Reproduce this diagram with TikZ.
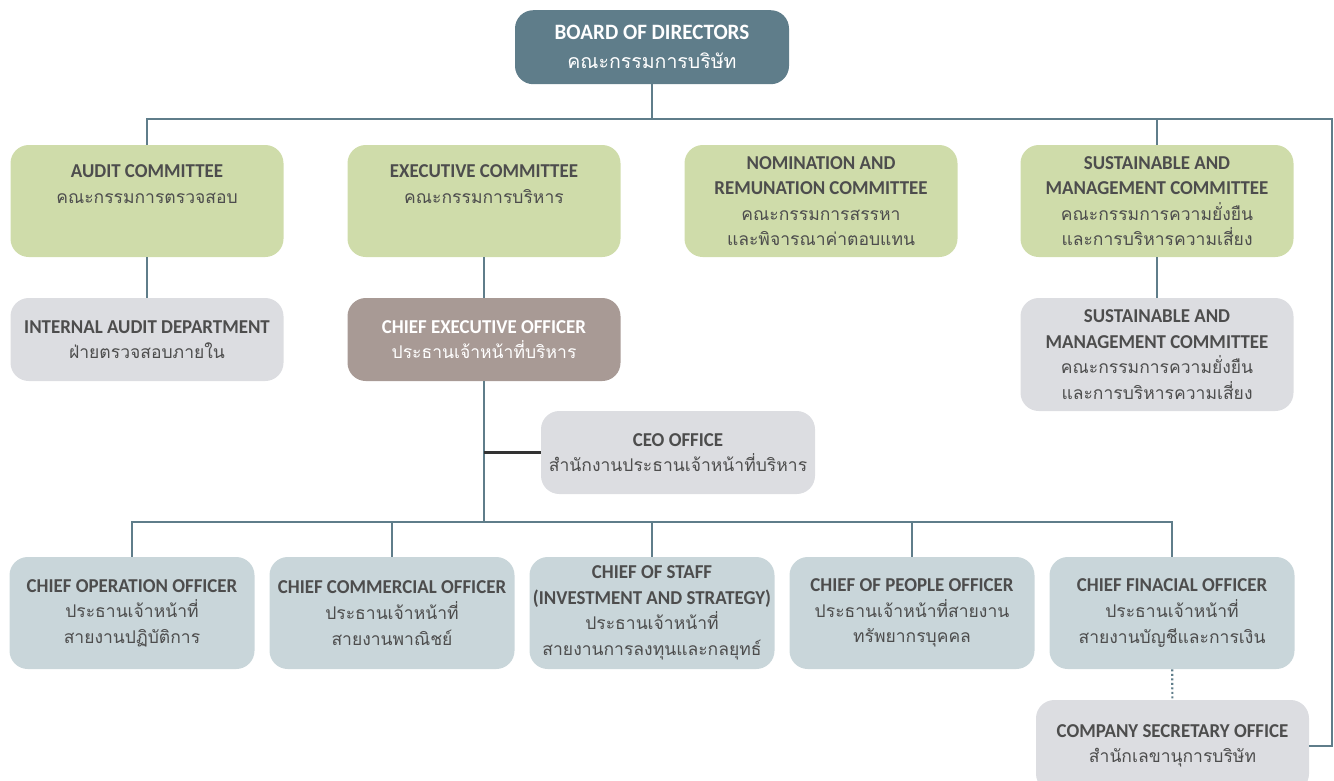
\documentclass[tikz,border=0pt]{standalone}
\usepackage{fontspec}
\setmainfont[FakeStretch=0.96]{Carlito}
\newfontfamily\thfont[Script=Thai,Scale=0.89]{Loma}
\usepackage{tikz}
\usetikzlibrary{calc}
\definecolor{slate}{RGB}{95,125,138}
\definecolor{leaf}{RGB}{207,220,170}
\definecolor{mist}{RGB}{220,221,225}
\definecolor{mauve}{RGB}{168,154,149}
\definecolor{steel}{RGB}{201,214,218}
\definecolor{ink}{RGB}{77,77,77}
\newcommand{\orgfont}{\fontsize{14}{18.2}\selectfont}
\tikzset{
  org/.style={rounded corners=13pt,align=center,font=\orgfont,text=ink,inner sep=0pt},
  board/.style={org,fill=slate,text=white,minimum width=6.85cm,minimum height=1.85cm,font=\fontsize{15.6}{20.6}\selectfont},
  comm/.style={org,fill=leaf,minimum width=6.825cm,minimum height=2.8cm},
  dept/.style={org,fill=mist,minimum width=6.825cm,minimum height=2.075cm},
  chief/.style={org,fill=steel,minimum width=6.125cm,minimum height=2.8cm},
  txt/.style={align=center,font=\orgfont,text=ink,inner sep=0pt,anchor=north},
  link/.style={draw=slate,line width=2.1pt},
  tie/.style={draw=black!80,line width=1.8pt}
}
\begin{document}
\begin{tikzpicture}
\useasboundingbox (0,0) rectangle (33.35,-19.5);
\node[board] (bod) at (16.3,-1.18) {\textbf{BOARD OF DIRECTORS}\\{\thfont คณะกรรมการบริษัท}};
% committees
\node[comm] (audit) at (3.675,-5.025) {};
\node[txt] (audittx) at ([yshift=-0.5cm]audit.north) {\textbf{AUDIT COMMITTEE}\\{\thfont คณะกรรมการตรวจสอบ}};
\node[comm] (exec) at (12.1,-5.025) {};
\node[txt] (exectx) at ([yshift=-0.5cm]exec.north) {\textbf{EXECUTIVE COMMITTEE}\\{\thfont คณะกรรมการบริหาร}};
\node[comm] (nomi) at (20.525,-5.025) {\textbf{NOMINATION AND}\\\textbf{REMUNATION COMMITTEE}\\{\thfont คณะกรรมการสรรหา}\\{\thfont และพิจารณาค่าตอบแทน}};
\node[comm] (sus) at (28.925,-5.025) {\textbf{SUSTAINABLE AND}\\\textbf{MANAGEMENT COMMITTEE}\\{\thfont คณะกรรมการความยั่งยืน}\\{\thfont และการบริหารความเสี่ยง}};
% second row
\node[dept] (iad) at (3.675,-8.4875) {\textbf{INTERNAL AUDIT DEPARTMENT}\\{\thfont ฝ่ายตรวจสอบภายใน}};
\node[dept,fill=mauve,text=white] (ceo) at (12.1,-8.4875) {\textbf{CHIEF EXECUTIVE OFFICER}\\{\thfont ประธานเจ้าหน้าที่บริหาร}};
\node[dept,minimum height=2.825cm] (sus2) at (28.925,-8.8625) {\textbf{SUSTAINABLE AND}\\\textbf{MANAGEMENT COMMITTEE}\\{\thfont คณะกรรมการความยั่งยืน}\\{\thfont และการบริหารความเสี่ยง}};
\node[dept,minimum width=6.85cm] (ceooff) at (16.95,-11.3125) {\textbf{CEO OFFICE}\\{\thfont สำนักงานประธานเจ้าหน้าที่บริหาร}};
% chiefs
\node[chief] (coo) at (3.3,-15.325) {\textbf{CHIEF OPERATION OFFICER}\\{\thfont ประธานเจ้าหน้าที่}\\{\thfont สายงานปฏิบัติการ}};
\node[chief] (cco) at (9.8,-15.325) {\textbf{CHIEF COMMERCIAL OFFICER}\\{\thfont ประธานเจ้าหน้าที่}\\{\thfont สายงานพาณิชย์}};
\node[chief] (cos) at (16.3,-15.325) {\textbf{CHIEF OF STAFF}\\\textbf{(INVESTMENT AND STRATEGY)}\\{\thfont ประธานเจ้าหน้าที่}\\{\thfont สายงานการลงทุนและกลยุทธ์}};
\node[chief] (cpo) at (22.8,-15.325) {\textbf{CHIEF OF PEOPLE OFFICER}\\{\thfont ประธานเจ้าหน้าที่สายงาน}\\{\thfont ทรัพยากรบุคคล}};
\node[chief] (cfo) at (29.3,-15.325) {\textbf{CHIEF FINACIAL OFFICER}\\{\thfont ประธานเจ้าหน้าที่}\\{\thfont สายงานบัญชีและการเงิน}};
\node[dept,minimum height=2.3cm] (secy) at (29.3125,-18.65) {\textbf{COMPANY SECRETARY OFFICE}\\{\thfont สำนักเลขานุการบริษัท}};
% lines
\coordinate (busR) at (33.3,-2.975);
\coordinate (hub) at (12.1,-13.05);
\draw[link] (bod.south) -- (bod.south|-busR);
\draw[link] (audit.north) |- (busR) |- (secy.east);
\draw[link] (sus.north) -- (sus.north|-busR);
\draw[link] (audit) -- (iad);
\draw[link] (exec) -- (ceo);
\draw[link] (sus) -- (sus2);
\draw[link] (ceo) -- (hub);
\draw[tie] (ceo.south|-ceooff.west) -- (ceooff.west);
\draw[link] (coo.north) |- (hub) -| (cfo.north);
\foreach \n in {cco,cos,cpo}
  \draw[link] (\n.north) -- (\n.north|-hub);
\draw[link,line width=1.5pt,dash pattern=on 1.4pt off 1.8pt] (cfo) -- (secy);
\end{tikzpicture}
\end{document}
